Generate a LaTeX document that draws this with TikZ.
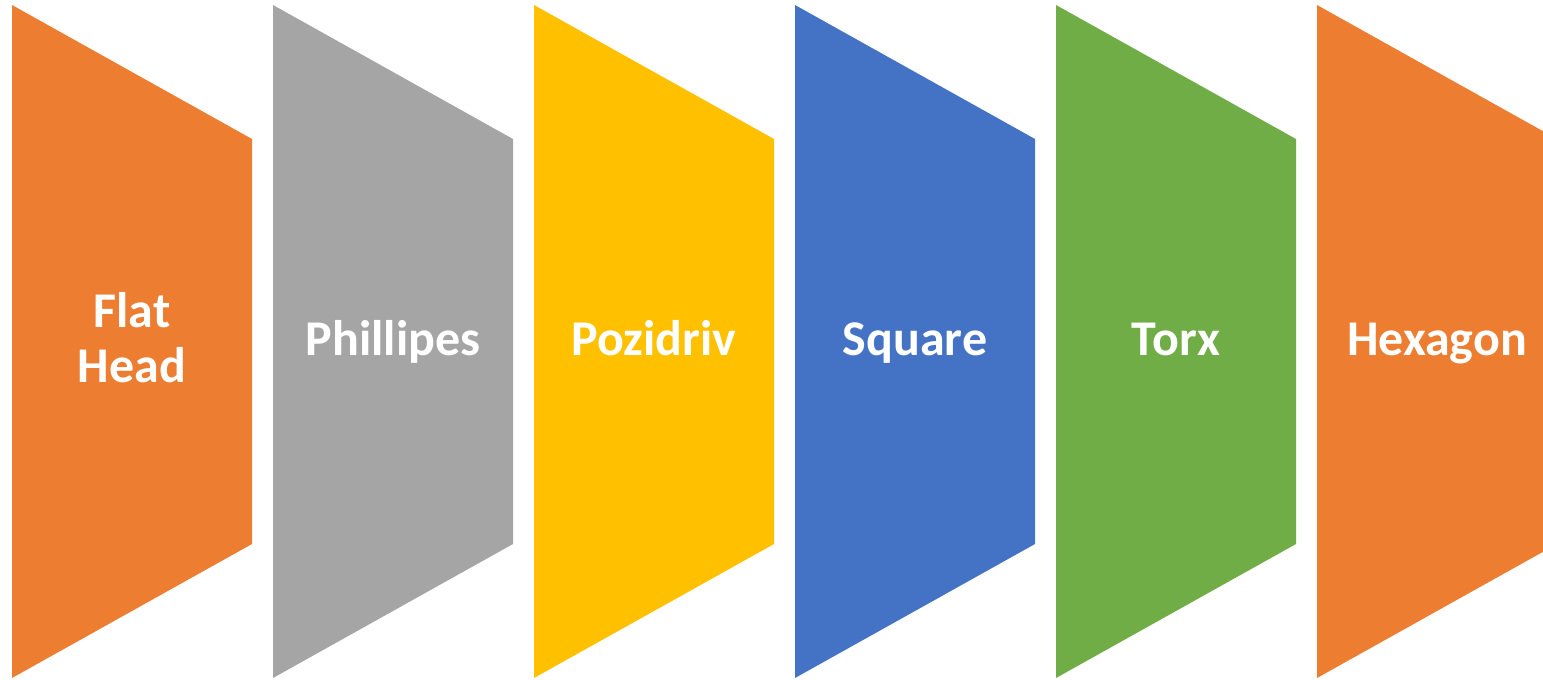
\documentclass[tikz,border=0pt]{standalone}
\usepackage{fontspec}
\setmainfont{Carlito}
\definecolor{cOrange}{HTML}{ED7D31}
\definecolor{cGray}{HTML}{A5A5A5}
\definecolor{cYellow}{HTML}{FFC000}
\definecolor{cBlue}{HTML}{4472C4}
\definecolor{cGreen}{HTML}{70AD47}
\begin{document}
\begin{tikzpicture}[x=1pt,y=-1pt,
  label text/.style={text=white,font=\fontsize{50}{55}\selectfont\bfseries,align=center,inner sep=0pt,anchor=base}]
\useasboundingbox (0,0) rectangle (1543,680);
\clip (0,0) rectangle (1543,680);
% panels: vertical left edge, slanted top and bottom, narrower on the right
\foreach \x/\c in {12/cOrange,273/cGray,534/cYellow,795/cBlue,1056/cGreen,1317/cOrange}{
  \fill[\c] (\x,5) -- (\x+240,139) -- (\x+240,544) -- (\x,678) -- cycle;
}
\node[label text] (flat) at (132,327) {Flat};
\node[label text] (head) at (132,382) {Head};
\node[label text] (phil) at (393,355) {Phillipes};
\node[label text] (pozi) at (654,355) {Pozidriv};
\node[label text] (square) at (915,355) {Square};
\node[label text] (torx) at (1176,355) {Torx};
\node[label text] (hex) at (1437,355) {Hexagon};
\end{tikzpicture}
\end{document}
